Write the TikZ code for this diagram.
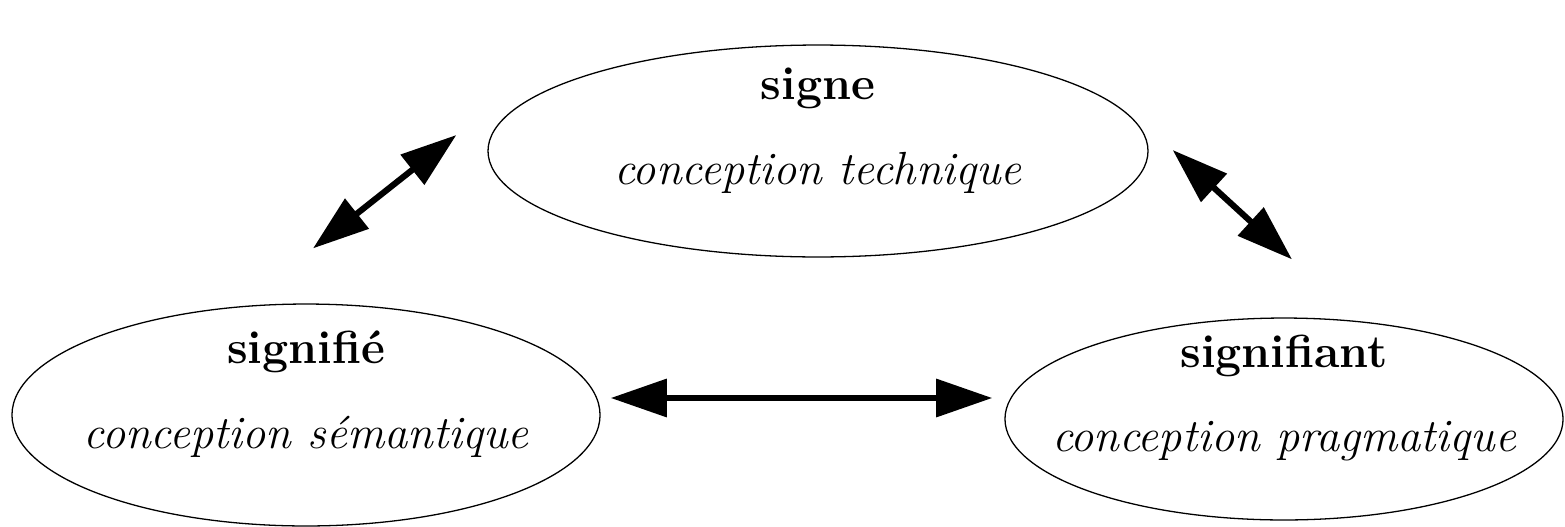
\documentclass[tikz,border=0pt]{standalone}
\usepackage{fontspec}
\usepackage{tikz}
\usetikzlibrary{shapes.geometric, arrows.meta}

\tikzset{
  bubble/.style = {draw, ellipse, inner sep=0pt, line width=0.4pt},
  title/.style = {font=\Large\bfseries, anchor=base, yshift=19.5pt},
  subtitle/.style = {font=\Large\itshape, anchor=base, yshift=-6.8pt},
  twoway/.style = {{Triangle[length=17.4pt, width=11.5pt]}-{Triangle[length=17.4pt, width=11.5pt]}, line width=1.9pt}
}

\begin{document}
\begin{tikzpicture}[x=0.31pt, y=-0.31pt]
\useasboundingbox (0,0) rectangle (1565,526);
% les trois conceptions
\node[bubble, minimum width=204.6pt, minimum height=65.7pt,
      label={[title]center:signe}, label={[subtitle]center:conception technique}] (signe) at (818,151) {};
\node[bubble, minimum width=182.3pt, minimum height=68.8pt,
      label={[title]center:signifié}, label={[subtitle]center:conception sémantique}] (signifie) at (306,415) {};
\node[bubble, minimum width=173pt, minimum height=62.6pt,
      label={[title]center:signifiant}, label={[subtitle]center:conception pragmatique}] (signifiant) at (1284,419) {};
% bouts des flèches
\coordinate (sa) at ([shift={(7,-55)}]signifie.north);
\coordinate (sb) at ([shift={(-31,-16)}]signe.west);
\coordinate (sc) at ([shift={(24,-1)}]signe.east);
\coordinate (sd) at ([shift={(8,-58)}]signifiant.north);
\coordinate (se) at ([shift={(10,-17)}]signifie.east);
\coordinate (sf) at ([shift={(-12,-21)}]signifiant.west);
\draw [twoway] (sa) -- (sb);
\draw [twoway] (sc) -- (sd);
\draw [twoway] (se) -- (sf);
\end{tikzpicture}
\end{document}
